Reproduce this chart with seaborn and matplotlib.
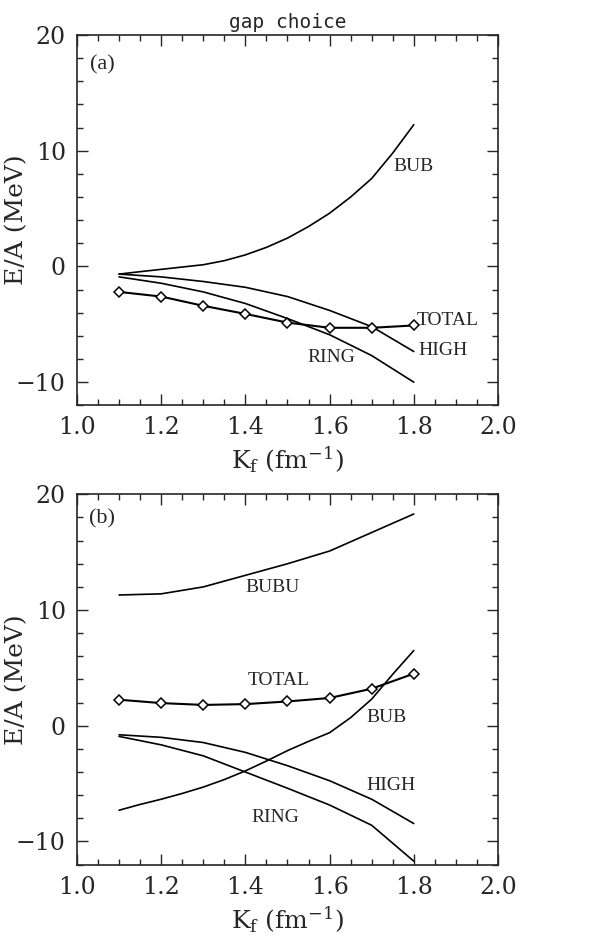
import matplotlib
matplotlib.use("Agg")
import matplotlib.pyplot as plt
import seaborn as sns
from matplotlib.ticker import MultipleLocator

sns.set_style("ticks")
plt.rcParams["font.family"] = ["DejaVu Serif"]
plt.rcParams["mathtext.fontset"] = "dejavuserif"

# Kf grid (fm^-1)
kf = [1.1, 1.2, 1.3, 1.4, 1.5, 1.6, 1.7, 1.8]
kf_fine = [1.1, 1.15, 1.2, 1.25, 1.3, 1.35, 1.4, 1.45, 1.5, 1.55, 1.6, 1.65, 1.7, 1.75, 1.8]

# -------- panel (a) --------
a_total = [-2.2, -2.6, -3.4, -4.1, -4.85, -5.3, -5.3, -5.1]
a_bub = [-0.66, -0.45, -0.25, -0.05, 0.15, 0.5, 1.0, 1.65, 2.45, 3.45, 4.6, 6.0, 7.6, 9.8, 12.25]
a_high = [-0.66, -0.9, -1.3, -1.8, -2.6, -3.8, -5.2, -7.35]
a_ring = [-0.9, -1.45, -2.2, -3.2, -4.5, -5.9, -7.7, -10.0]

# -------- panel (b) --------
b_bubu = [11.3, 11.4, 12.0, 13.0, 14.0, 15.1, 16.7, 18.3]
b_total = [2.25, 1.96, 1.8, 1.87, 2.1, 2.4, 3.2, 4.5]
b_bub = [-7.3, -6.8, -6.35, -5.85, -5.3, -4.65, -3.9, -3.05, -2.15, -1.35, -0.6, 0.7, 2.3, 4.45, 6.5]
b_high = [-0.78, -1.0, -1.45, -2.3, -3.45, -4.75, -6.35, -8.45]
b_ring = [-0.92, -1.65, -2.6, -4.0, -5.4, -6.85, -8.6, -11.7]

fig = plt.figure(figsize=(6.11, 9.47), dpi=100)
ax1 = fig.add_axes([0.126, 0.572, 0.689, 0.391])
ax2 = fig.add_axes([0.126, 0.087, 0.689, 0.391])

lab_font = dict(family="Liberation Serif", fontsize=14, ha="center", va="center")


def style_axes(ax):
    ax.set_xlim(1.0, 2.0)
    ax.set_ylim(-12, 20)
    ax.xaxis.set_major_locator(MultipleLocator(0.2))
    ax.xaxis.set_minor_locator(MultipleLocator(0.05))
    ax.yaxis.set_major_locator(MultipleLocator(10))
    ax.yaxis.set_minor_locator(MultipleLocator(2))
    ax.tick_params(which="both", direction="in", top=True, right=True,
                   labelsize=17, width=1, pad=8)
    ax.tick_params(which="major", length=8)
    ax.tick_params(which="minor", length=4)
    ax.xaxis.set_major_formatter(plt.FuncFormatter(lambda v, p: f"{v:.1f}"))
    ax.yaxis.set_major_formatter(plt.FuncFormatter(lambda v, p: f"{v:.0f}".replace("-", "\u2212")))
    for s in ax.spines.values():
        s.set_linewidth(1.2)
    ax.set_xlabel(r"K$_\mathrm{f}$ (fm$^{-1}$)", fontsize=18, labelpad=4)
    ax.set_ylabel("E/A (MeV)", fontsize=18)
    ax.yaxis.set_label_coords(-0.116, 0.5)


def plain(ax, x, y):
    sns.lineplot(x=x, y=y, ax=ax, color="black", linewidth=1.2)


def with_marks(ax, y):
    sns.lineplot(x=kf, y=y, ax=ax, color="black", linewidth=1.5, marker="D",
                 markersize=5.5, markerfacecolor="white", markeredgecolor="black",
                 markeredgewidth=1.1)


# panel (a)
plain(ax1, kf_fine, a_bub)
plain(ax1, kf, a_high)
plain(ax1, kf, a_ring)
with_marks(ax1, a_total)
style_axes(ax1)
ax1.set_title("gap choice", family="DejaVu Sans Mono", fontsize=14, pad=5)
ax1.text(1.06, 17.4, "(a)", family="Liberation Serif", fontsize=16, ha="center", va="center")
ax1.text(1.80, 8.65, "BUB", **lab_font)
ax1.text(1.88, -4.7, "TOTAL", **lab_font)
ax1.text(1.87, -7.3, "HIGH", **lab_font)
ax1.text(1.605, -7.9, "RING", **lab_font)

# panel (b)
plain(ax2, kf, b_bubu)
plain(ax2, kf_fine, b_bub)
plain(ax2, kf, b_high)
plain(ax2, kf, b_ring)
with_marks(ax2, b_total)
style_axes(ax2)
ax2.text(1.06, 17.9, "(b)", family="Liberation Serif", fontsize=16, ha="center", va="center")
ax2.text(1.465, 11.95, "BUBU", **lab_font)
ax2.text(1.48, 3.9, "TOTAL", **lab_font)
ax2.text(1.735, 0.7, "BUB", **lab_font)
ax2.text(1.745, -5.2, "HIGH", **lab_font)
ax2.text(1.47, -7.9, "RING", **lab_font)

fig.savefig("out.png", dpi=100)
